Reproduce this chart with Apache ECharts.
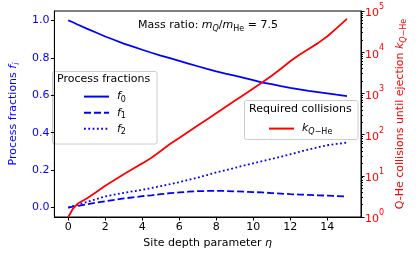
<!DOCTYPE html>
<html><head><meta charset="utf-8">
<script src="https://cdn.jsdelivr.net/npm/echarts@6/dist/echarts.min.js"></script>
<style>html,body{margin:0;padding:0;background:#fff}#c{width:416px;height:258px}</style>
</head><body><div id="c"></div>
<script>
const eta = [0,0.1,0.25,0.5,1,1.5,2,2.5,3,3.5,4,4.5,5,5.5,6,6.5,7,7.5,8,8.5,9,9.5,10,10.5,11,11.5,12,12.5,13,13.5,14,14.5,15.07];
const f0 = [1.0,0.995,0.99,0.978,0.956,0.935,0.914,0.895,0.876,0.86,0.843,0.827,0.812,0.798,0.784,0.769,0.755,0.741,0.728,0.716,0.705,0.693,0.681,0.668,0.659,0.649,0.64,0.632,0.624,0.617,0.61,0.603,0.596];
const f1 = [0,0.002,0.005,0.009,0.018,0.026,0.034,0.042,0.049,0.055,0.061,0.066,0.072,0.077,0.081,0.085,0.088,0.089,0.089,0.089,0.087,0.085,0.083,0.081,0.078,0.075,0.072,0.07,0.068,0.066,0.064,0.062,0.06];
const f2 = [0,0.003,0.008,0.015,0.03,0.045,0.06,0.07,0.079,0.087,0.095,0.105,0.115,0.125,0.136,0.148,0.16,0.174,0.188,0.2,0.212,0.225,0.237,0.248,0.26,0.272,0.285,0.298,0.31,0.322,0.333,0.34,0.347];
const kQHe = [1,1.2,1.58,2.09,2.82,3.98,5.75,7.94,10.96,14.8,20,27.5,39.8,58.9,83.2,117.5,166,234,331,468,661,933,1318,1862,2692,3981,6026,8710,12020,16600,23990,38020,64570];
const xTicks = [0,2,4,6,8,10,12,14];
const leftTicks = [0,0.2,0.4,0.6,0.8,1.0];
const rightTicks = [1,10,100,1000,10000,100000];
const rightMinor = [];
[1,10,100,1000,10000].forEach(d=>{for(let m=2;m<=9;m++) rightMinor.push(m*d);});

const FONT = 'DejaVu Sans';
const BLUE = '#0000ff', RED = '#ff0000';
const pairs = ys => eta.map((x,i)=>[x, ys[i]]);
const chart = echarts.init(document.getElementById('c'), null, {renderer:'canvas'});
const legRich = {
  it:{fontFamily:FONT,fontSize:11,fontStyle:'italic',color:'#000',lineHeight:15,verticalAlign:'middle'},
  sub:{fontFamily:FONT,fontSize:8,color:'#000',lineHeight:15,verticalAlign:'bottom',padding:[5,0,0,0]},
  subi:{fontFamily:FONT,fontSize:8,fontStyle:'italic',color:'#000',lineHeight:15,verticalAlign:'bottom',padding:[5,0,0,0]}
};
const legName = {f0:'{it|f}{sub|0}', f1:'{it|f}{sub|1}', f2:'{it|f}{sub|2}', k:'{it|k}{subi|Q}{sub|−He}'};
chart.setOption({
  animation:false,
  textStyle:{fontFamily:FONT},
  grid:{left:47,right:52,top:11,bottom:41,show:true,borderColor:'#000',borderWidth:1,backgroundColor:'transparent'},
  xAxis:{type:'value',min:-0.75,max:15.83,
    name:'Site depth parameter {it|η}',nameLocation:'middle',nameGap:19,
    nameTextStyle:{fontFamily:FONT,fontSize:11,color:'#000',rich:{it:{fontFamily:FONT,fontSize:11,fontStyle:'italic',color:'#000'}}},
    axisLine:{show:true,onZero:false,lineStyle:{color:'#000',width:1}},
    axisTick:{show:true,length:3.5,lineStyle:{color:'#000'},customValues:xTicks},
    axisLabel:{customValues:xTicks,color:'#000',fontSize:11,fontFamily:FONT,margin:5},
    splitLine:{show:false}},
  yAxis:[
    {type:'value',min:-0.05,max:1.05,position:'left',
      name:'Process fractions {it|f}{sub|i}',nameLocation:'middle',nameGap:29,nameRotate:90,
      nameTextStyle:{fontFamily:FONT,fontSize:11,color:BLUE,rich:{
        it:{fontFamily:FONT,fontSize:11,fontStyle:'italic',color:BLUE,lineHeight:15,verticalAlign:'middle'},
        sub:{fontFamily:FONT,fontSize:8,fontStyle:'italic',color:BLUE,lineHeight:15,verticalAlign:'bottom',padding:[5,0,0,0]}}},
      axisLine:{show:true,onZero:false,lineStyle:{color:'#000'}},
      axisTick:{show:true,length:3.5,lineStyle:{color:'#000'},customValues:leftTicks},
      axisLabel:{customValues:leftTicks,color:BLUE,fontSize:11,fontFamily:FONT,margin:5,formatter:v=>Number(v).toFixed(1)},
      splitLine:{show:false}},
    {type:'log',logBase:10,min:1,max:100000,position:'right',
      name:'Q-He collisions until ejection {it|k}{subi|Q}{sub|−He}',nameLocation:'middle',nameGap:30,nameRotate:90,
      nameTextStyle:{fontFamily:FONT,fontSize:11,color:RED,rich:{
        it:{fontFamily:FONT,fontSize:11,fontStyle:'italic',color:RED,lineHeight:15,verticalAlign:'middle'},
        subi:{fontFamily:FONT,fontSize:8,fontStyle:'italic',color:RED,lineHeight:15,verticalAlign:'bottom',padding:[5,0,0,0]},
        sub:{fontFamily:FONT,fontSize:8,color:RED,lineHeight:15,verticalAlign:'bottom',padding:[5,0,0,0]}}},
      axisLine:{show:true,onZero:false,lineStyle:{color:'#000'}},
      axisTick:{show:true,length:3.5,lineStyle:{color:'#000'},customValues:rightTicks},
      axisLabel:{customValues:rightTicks,color:RED,fontFamily:FONT,margin:4,
        formatter:v=>'{b|10}{s|'+Math.round(Math.log10(v))+'}',
        rich:{b:{fontFamily:FONT,fontSize:11,color:RED,lineHeight:16,verticalAlign:'bottom'},
              s:{fontFamily:FONT,fontSize:8,color:RED,lineHeight:16,verticalAlign:'top',padding:[0,0,6,0]}}},
      splitLine:{show:false}},
    {type:'log',logBase:10,min:1,max:100000,position:'right',
      axisLine:{show:false,onZero:false},
      axisTick:{show:true,length:2,lineStyle:{color:'#000'},customValues:rightMinor},
      axisLabel:{show:false},splitLine:{show:false}}
  ],
  legend:[
    {data:['f0','f1','f2'],orient:'vertical',left:83,top:91,padding:0,itemWidth:25,itemHeight:14,itemGap:3,
      itemStyle:{opacity:0},
      formatter:n=>legName[n],textStyle:{fontFamily:FONT,fontSize:11,color:'#000',padding:[0,0,0,3],rich:legRich},selectedMode:false},
    {data:['k'],orient:'vertical',left:268,top:123,padding:0,itemWidth:25,itemHeight:14,
      itemStyle:{opacity:0},
      formatter:n=>legName[n],textStyle:{fontFamily:FONT,fontSize:11,color:'#000',padding:[0,0,0,3],rich:legRich},selectedMode:false}
  ],
  graphic:[
    {type:'text',left:'center',top:20,style:{
      text:'Mass ratio: {it|m}{subi|Q}/{it|m}{sub|He} = 7.5',
      font:'11px DejaVu Sans',fill:'#000',
      rich:{it:{fontFamily:FONT,fontSize:11,fontStyle:'italic',lineHeight:15,verticalAlign:'middle'},
            subi:{fontFamily:FONT,fontSize:8,fontStyle:'italic',lineHeight:15,verticalAlign:'bottom',padding:[5,0,0,0]},
            sub:{fontFamily:FONT,fontSize:8,lineHeight:15,verticalAlign:'bottom',padding:[5,0,0,0]}}}},
    {type:'rect',z:-1,shape:{x:52.5,y:71.5,width:104.5,height:72.5,r:2},style:{fill:'rgba(255,255,255,0.8)',stroke:'#cccccc',lineWidth:1}},
    {type:'text',x:57,y:74,style:{text:'Process fractions',font:'11px DejaVu Sans',fill:'#000'}},
    {type:'rect',z:-1,shape:{x:244.5,y:100.5,width:113.5,height:39,r:2},style:{fill:'rgba(255,255,255,0.8)',stroke:'#cccccc',lineWidth:1}},
    {type:'text',x:249,y:104,style:{text:'Required collisions',font:'11px DejaVu Sans',fill:'#000'}}
  ],
  series:[
    {name:'f0',type:'line',yAxisIndex:0,data:pairs(f0),symbol:'none',lineStyle:{color:BLUE,width:1.8},itemStyle:{color:BLUE}},
    {name:'f1',type:'line',yAxisIndex:0,data:pairs(f1),symbol:'none',lineStyle:{color:BLUE,width:1.8,type:[7,3]},itemStyle:{color:BLUE}},
    {name:'f2',type:'line',yAxisIndex:0,data:pairs(f2),symbol:'none',lineStyle:{color:BLUE,width:1.8,type:[1.8,2.5]},itemStyle:{color:BLUE}},
    {name:'k',type:'line',yAxisIndex:1,data:pairs(kQHe),symbol:'none',lineStyle:{color:RED,width:1.8},itemStyle:{color:RED}}
  ]
});
</script></body></html>
